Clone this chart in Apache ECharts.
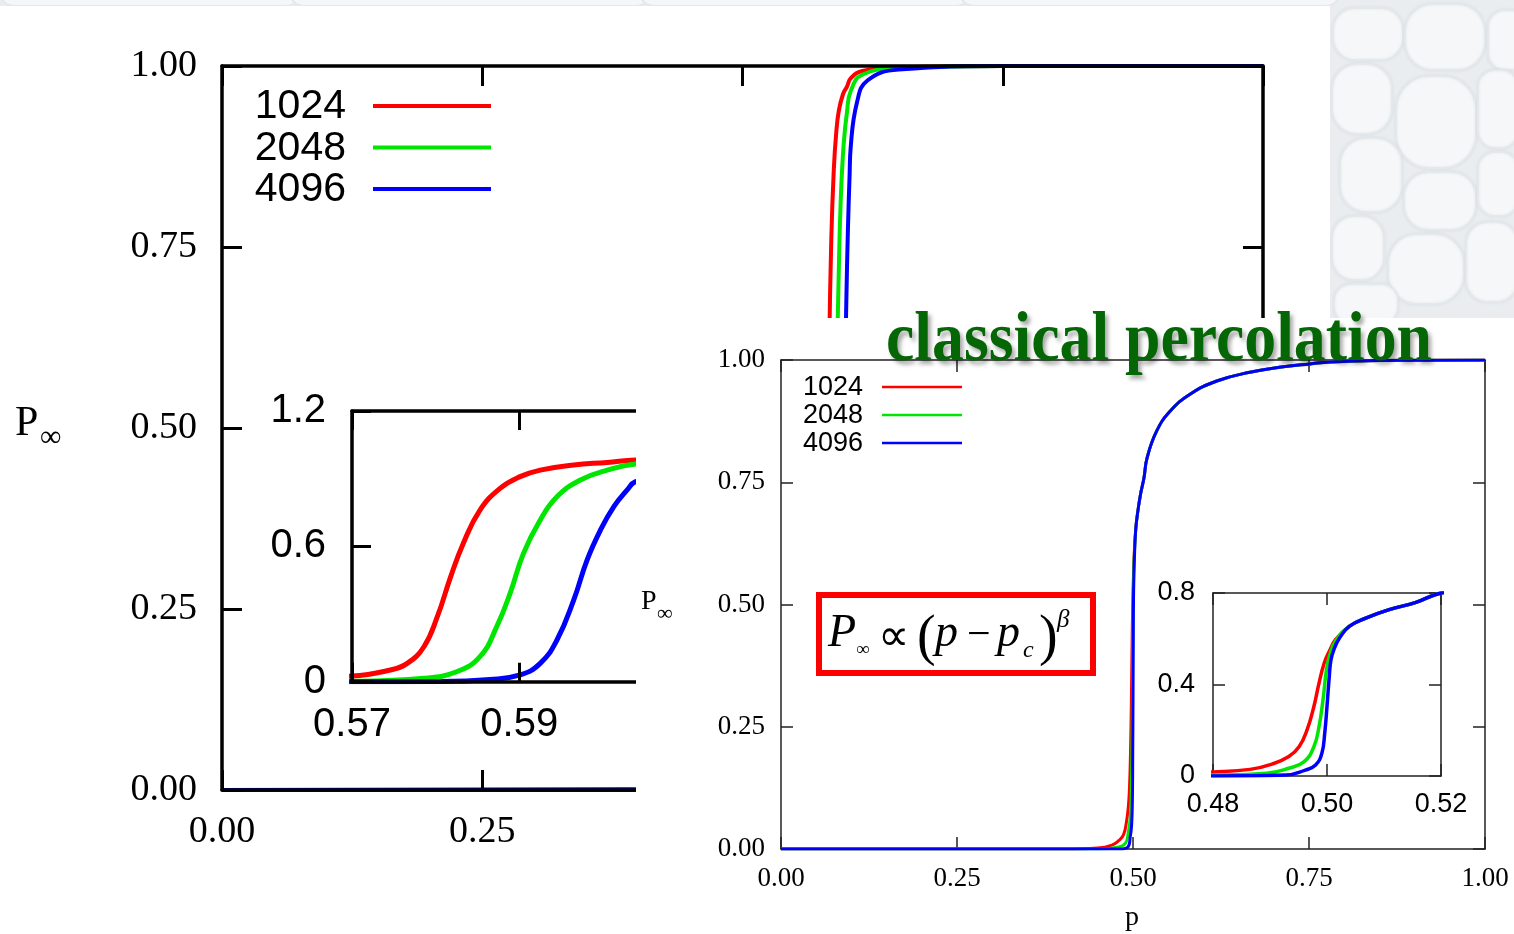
<!DOCTYPE html>
<html>
<head>
<meta charset="utf-8">
<script src="https://cdn.jsdelivr.net/npm/echarts@6/dist/echarts.min.js"></script>
<style>
html, body { margin: 0; padding: 0; background: #fff; }
#c { width: 1514px; height: 934px; }
</style>
</head>
<body>
<div id="c"></div>
<script>
// lattice sizes and their colours
const sizes = ['1024', '2048', '4096'];
const colors = ['#ff0000', '#00e600', '#0000ff'];

// explosive percolation: order parameter P_inf against p
const explosiveRed = [[0, 0], [0.50, 0.002], [0.55, 0.008], [0.57, 0.025], [0.5746, 0.052], [0.5766, 0.081],
  [0.5786, 0.155], [0.5802, 0.288], [0.5818, 0.466], [0.5833, 0.613], [0.5853, 0.761], [0.5877, 0.857],
  [0.5901, 0.909], [0.5925, 0.938], [0.5965, 0.961], [0.6005, 0.972], [0.6039, 0.983], [0.615, 0.993],
  [0.65, 0.998], [0.75, 1.0], [1.0, 1.0]];
const explosiveGreen = [[0, 0], [0.55, 0], [0.57, 0.002], [0.5786, 0.015], [0.5825, 0.044], [0.5853, 0.111],
  [0.5873, 0.244], [0.5889, 0.392], [0.5905, 0.569], [0.5925, 0.717], [0.5945, 0.82], [0.5973, 0.894],
  [0.6005, 0.938], [0.6039, 0.965], [0.615, 0.988], [0.65, 0.997], [0.75, 1.0], [1.0, 1.0]];
const explosiveBlue = [[0, 0], [0.57, 0], [0.5806, 0.001], [0.5865, 0.01], [0.5901, 0.03], [0.5925, 0.081],
  [0.5945, 0.185], [0.5965, 0.362], [0.5981, 0.539], [0.5997, 0.672], [0.6013, 0.776], [0.6029, 0.85],
  [0.6039, 0.887], [0.61, 0.95], [0.62, 0.98], [0.65, 0.995], [0.75, 1.0], [1.0, 1.0]];

// classical percolation: the three sizes split only close to p_c
const classicalRedLow = [[0, 0], [0.40, 0], [0.45, 0.002], [0.47, 0.008], [0.48, 0.0175], [0.4865, 0.029],
  [0.4904, 0.0525], [0.4933, 0.085], [0.4951, 0.128], [0.4965, 0.2015], [0.4977, 0.304], [0.4986, 0.406],
  [0.4995, 0.493], [0.5004, 0.545], [0.5015, 0.596]];
const classicalGreenLow = [[0, 0], [0.45, 0], [0.48, 0.004], [0.4894, 0.012], [0.4933, 0.034], [0.496, 0.063],
  [0.4977, 0.128], [0.4986, 0.216], [0.4993, 0.333], [0.4999, 0.464], [0.5005, 0.53], [0.5015, 0.59]];
const classicalBlueLow = [[0, 0], [0.48, 0], [0.4927, 0.004], [0.4962, 0.026], [0.498, 0.048], [0.4991, 0.099],
  [0.4996, 0.187], [0.5, 0.304], [0.5004, 0.435], [0.5007, 0.508], [0.5013, 0.559], [0.5022, 0.603]];
const classicalTail = [[0.5039, 0.654], [0.5068, 0.69], [0.5109, 0.727], [0.5156, 0.759], [0.52, 0.80],
  [0.5337, 0.855], [0.5526, 0.895], [0.581, 0.93], [0.619, 0.957], [0.666, 0.975], [0.7135, 0.986],
  [0.751, 0.992], [0.78, 0.996], [0.85, 0.999], [1.0, 1.0]];

// tick positions
const mainTicks = [0, 0.25, 0.5, 0.75, 1];
const explosiveInsetX = [0.57, 0.59];
const explosiveInsetY = [0, 0.6, 1.2];
const classicalInsetX = [0.48, 0.50, 0.52];
const classicalInsetY = [0, 0.4, 0.8];

const SERIF = '"Liberation Serif", "DejaVu Serif", serif';
const SANS = '"Liberation Sans", Arial, sans-serif';

const explosiveData = [explosiveRed, explosiveGreen, explosiveBlue];
const classicalData = [classicalRedLow.concat(classicalTail), classicalGreenLow.concat(classicalTail), classicalBlueLow.concat(classicalTail)];

const fmt2 = v => v.toFixed(2);
const fmt1 = v => (Math.abs(v) < 1e-9 ? '0' : v.toFixed(1));

// one framed panel: labelled bottom/left axes plus mirrored top/right axes carrying ticks only
function frame(gridIndex, xr, yr, st) {
  const line = { show: true, onZero: false, lineStyle: { color: st.color, width: st.lw } };
  const tick = (vals) => ({ show: true, inside: true, length: st.tl, customValues: vals, lineStyle: { color: st.color, width: st.tw } });
  const lab = (vals, margin, f) => ({ show: true, customValues: vals, margin, formatter: f, color: '#000', fontFamily: st.ff, fontSize: st.fs });
  const base = { type: 'value', gridIndex, zlevel: st.zlevel, z: st.z, splitLine: { show: false } };
  const x = [
    Object.assign({}, base, { position: 'bottom', min: xr[0], max: xr[1], axisLine: line, axisTick: tick(xr[2]), axisLabel: lab(xr[2], st.xm, st.fx) }),
    Object.assign({}, base, { position: 'top', min: xr[0], max: xr[1], axisLine: line, axisTick: tick(xr[2]), axisLabel: { show: false } })
  ];
  const y = [
    Object.assign({}, base, { position: 'left', min: yr[0], max: yr[1], axisLine: line, axisTick: tick(yr[2]), axisLabel: lab(yr[2], st.ym, st.fy) }),
    Object.assign({}, base, { position: 'right', min: yr[0], max: yr[1], axisLine: line, axisTick: tick(yr[2]), axisLabel: { show: false } })
  ];
  return { x, y };
}

const grids = [
  { left: 222, top: 66, width: 1041, height: 724 },
  { left: 352, top: 411, width: 334.6, height: 270.7 },
  { left: 781, top: 360, width: 704, height: 489 },
  { left: 1213, top: 593, width: 228, height: 183 }
];

const frames = [
  frame(0, [0, 1, mainTicks], [0, 1, mainTicks], { color: '#000', lw: 3.5, tl: 20, tw: 3, ff: SERIF, fs: 38, xm: 23, ym: 25, fx: fmt2, fy: fmt2, zlevel: 0, z: 5 }),
  frame(1, [0.57, 0.61, explosiveInsetX], [0, 1.2, explosiveInsetY], { color: '#000', lw: 3.5, tl: 19, tw: 3, ff: SANS, fs: 40, xm: 23, ym: 26, fx: fmt2, fy: fmt1, zlevel: 0, z: 5 }),
  frame(2, [0, 1, mainTicks], [0, 1, mainTicks], { color: '#222', lw: 1.5, tl: 12, tw: 1.5, ff: SERIF, fs: 27, xm: 16, ym: 16, fx: fmt2, fy: fmt2, zlevel: 1, z: 1 }),
  frame(3, [0.48, 0.52, classicalInsetX], [0, 0.8, classicalInsetY], { color: '#222', lw: 1.5, tl: 12, tw: 1.5, ff: SANS, fs: 27, xm: 15, ym: 18, fx: fmt2, fy: fmt1, zlevel: 1, z: 1 })
];

const xAxis = [], yAxis = [];
frames.forEach(f => { xAxis.push(...f.x); yAxis.push(...f.y); });

const series = [];
function addCurves(dataSets, axisIdx, width, zlevel) {
  dataSets.forEach((d, i) => {
    series.push({
      type: 'line', name: sizes[i], data: d, xAxisIndex: axisIdx, yAxisIndex: axisIdx,
      showSymbol: false, symbol: 'none', smooth: 0.45, clip: true,
      lineStyle: { color: colors[i], width }, itemStyle: { color: colors[i] },
      zlevel, z: 2, silent: true, animation: false
    });
  });
}
addCurves(explosiveData, 0, 4, 0);
addCurves(explosiveData, 2, 5, 0);
addCurves(classicalData, 4, 3, 1);
addCurves(classicalData, 6, 3.5, 1);

// text helper
function txt(text, x, y, font, opts) {
  const o = opts || {};
  return {
    type: 'text', x, y, zlevel: o.zlevel || 0, z: o.z || 10, silent: true,
    scaleX: o.scaleX || 1,
    style: {
      text, font, fill: o.fill || '#000',
      align: o.align || 'left', textAlign: o.align || 'left',
      verticalAlign: 'middle', textVerticalAlign: 'middle'
    }
  };
}

// stone wall backdrop
const pebbles = [
  [1333, 8, 70, 52], [1405, 4, 80, 66], [1488, 10, 40, 60], [1332, 64, 60, 70], [1396, 76, 80, 92],
  [1478, 70, 40, 78], [1340, 138, 62, 74], [1404, 172, 72, 58], [1478, 152, 40, 64], [1332, 216, 52, 64],
  [1388, 234, 76, 70], [1466, 222, 52, 80], [1334, 284, 64, 40]
];
const graphic = [];
pebbles.forEach(p => graphic.push({
  type: 'rect', zlevel: 0, z: -20, silent: true,
  shape: { x: p[0], y: p[1], width: p[2], height: p[3], r: Math.min(p[2], p[3]) / 2.4 },
  style: { fill: '#f5f7f8', stroke: '#e4e8eb', lineWidth: 2, shadowBlur: 3, shadowColor: 'rgba(170,178,185,0.2)' }
}));
[[0, -30, 300, 36], [290, -28, 360, 34], [640, -30, 330, 36], [960, -26, 380, 32]].forEach(p => graphic.push({
  type: 'rect', zlevel: 0, z: -20, silent: true,
  shape: { x: p[0], y: p[1], width: p[2], height: p[3], r: 14 },
  style: { fill: '#f4f6f7', stroke: '#e4e8eb', lineWidth: 2 }
}));

// white sheet of the explosive-percolation figure
graphic.push({ type: 'rect', zlevel: 0, z: -10, silent: true, shape: { x: 0, y: 6, width: 1330, height: 928 }, style: { fill: '#fff' } });

// legend of the explosive figure
sizes.forEach((s, i) => {
  const yy = 106 + i * 41.5;
  graphic.push(txt(s, 346, yy + 1, '41px ' + SANS, { align: 'right', zlevel: 0 }));
  graphic.push({ type: 'line', zlevel: 0, z: 10, silent: true, shape: { x1: 373, y1: yy, x2: 491, y2: yy }, style: { stroke: colors[i], lineWidth: 4 } });
});
graphic.push(txt('P', 15, 424, '42px ' + SERIF, { zlevel: 0 }));
graphic.push(txt('\u221E', 40, 438, '30px ' + SERIF, { zlevel: 0 }));

// white sheet of the classical-percolation figure
graphic.push({ type: 'rect', zlevel: 1, z: -10, silent: true, shape: { x: 636, y: 318, width: 878, height: 616 }, style: { fill: '#fff' } });

sizes.forEach((s, i) => {
  const yy = 387 + i * 28;
  graphic.push(txt(s, 863, yy + 1, '27px ' + SANS, { align: 'right', zlevel: 1 }));
  graphic.push({ type: 'line', zlevel: 1, z: 10, silent: true, shape: { x1: 882, y1: yy, x2: 962, y2: yy }, style: { stroke: colors[i], lineWidth: 2.5 } });
});
graphic.push(txt('P', 641, 602, '28px ' + SERIF, { zlevel: 1 }));
graphic.push(txt('\u221E', 657, 614, '22px ' + SERIF, { zlevel: 1 }));
graphic.push(txt('p', 1125, 918, '28px ' + SERIF, { zlevel: 1 }));

// scaling law in a red frame
graphic.push({ type: 'rect', zlevel: 1, z: 20, silent: true, shape: { x: 819, y: 595, width: 274, height: 78 }, style: { fill: '#fff', stroke: '#ff0000', lineWidth: 6 } });
const IT = 'italic 46px ' + SERIF;
[
  ['P', 828, 634, IT],
  ['\u221E', 856, 650, '19px ' + SERIF],
  ['\u221D', 878, 639, '44px "DejaVu Sans", sans-serif'],
  ['(', 917, 639, '56px ' + SERIF],
  ['p', 935, 634, IT],
  ['\u2212', 967, 636, '42px ' + SERIF],
  ['p', 997, 634, IT],
  ['c', 1023, 651, 'italic 24px ' + SERIF],
  [')', 1039, 639, '56px ' + SERIF],
  ['\u03B2', 1057, 620, 'italic 25px ' + SERIF]
].forEach(g => graphic.push(txt(g[0], g[1], g[2], g[3], { zlevel: 1, z: 21 })));

// heading
const titleText = 'classical percolation';
const titleFont = 'bold 70px ' + SERIF;
const meas = document.createElement('canvas').getContext('2d');
meas.font = titleFont;
const titleScale = 546 / meas.measureText(titleText).width;
graphic.push({
  type: 'text', x: 886, y: 342, zlevel: 1, z: 30, silent: true, scaleX: titleScale,
  style: {
    text: titleText, font: titleFont, fill: '#046604',
    align: 'left', textAlign: 'left', verticalAlign: 'middle', textVerticalAlign: 'middle',
    textShadowColor: 'rgba(0,0,0,0.35)', textShadowBlur: 4, textShadowOffsetX: 3, textShadowOffsetY: 4,
    shadowColor: 'rgba(0,0,0,0.35)', shadowBlur: 4, shadowOffsetX: 3, shadowOffsetY: 4
  }
});

const chart = echarts.init(document.getElementById('c'), null, { renderer: 'canvas' });
chart.setOption({
  backgroundColor: '#e9edf0',
  animation: false,
  grid: grids.map((g, i) => Object.assign({ containLabel: false, zlevel: i < 2 ? 0 : 1 }, g)),
  xAxis, yAxis, series, graphic
});
</script>
</body>
</html>
